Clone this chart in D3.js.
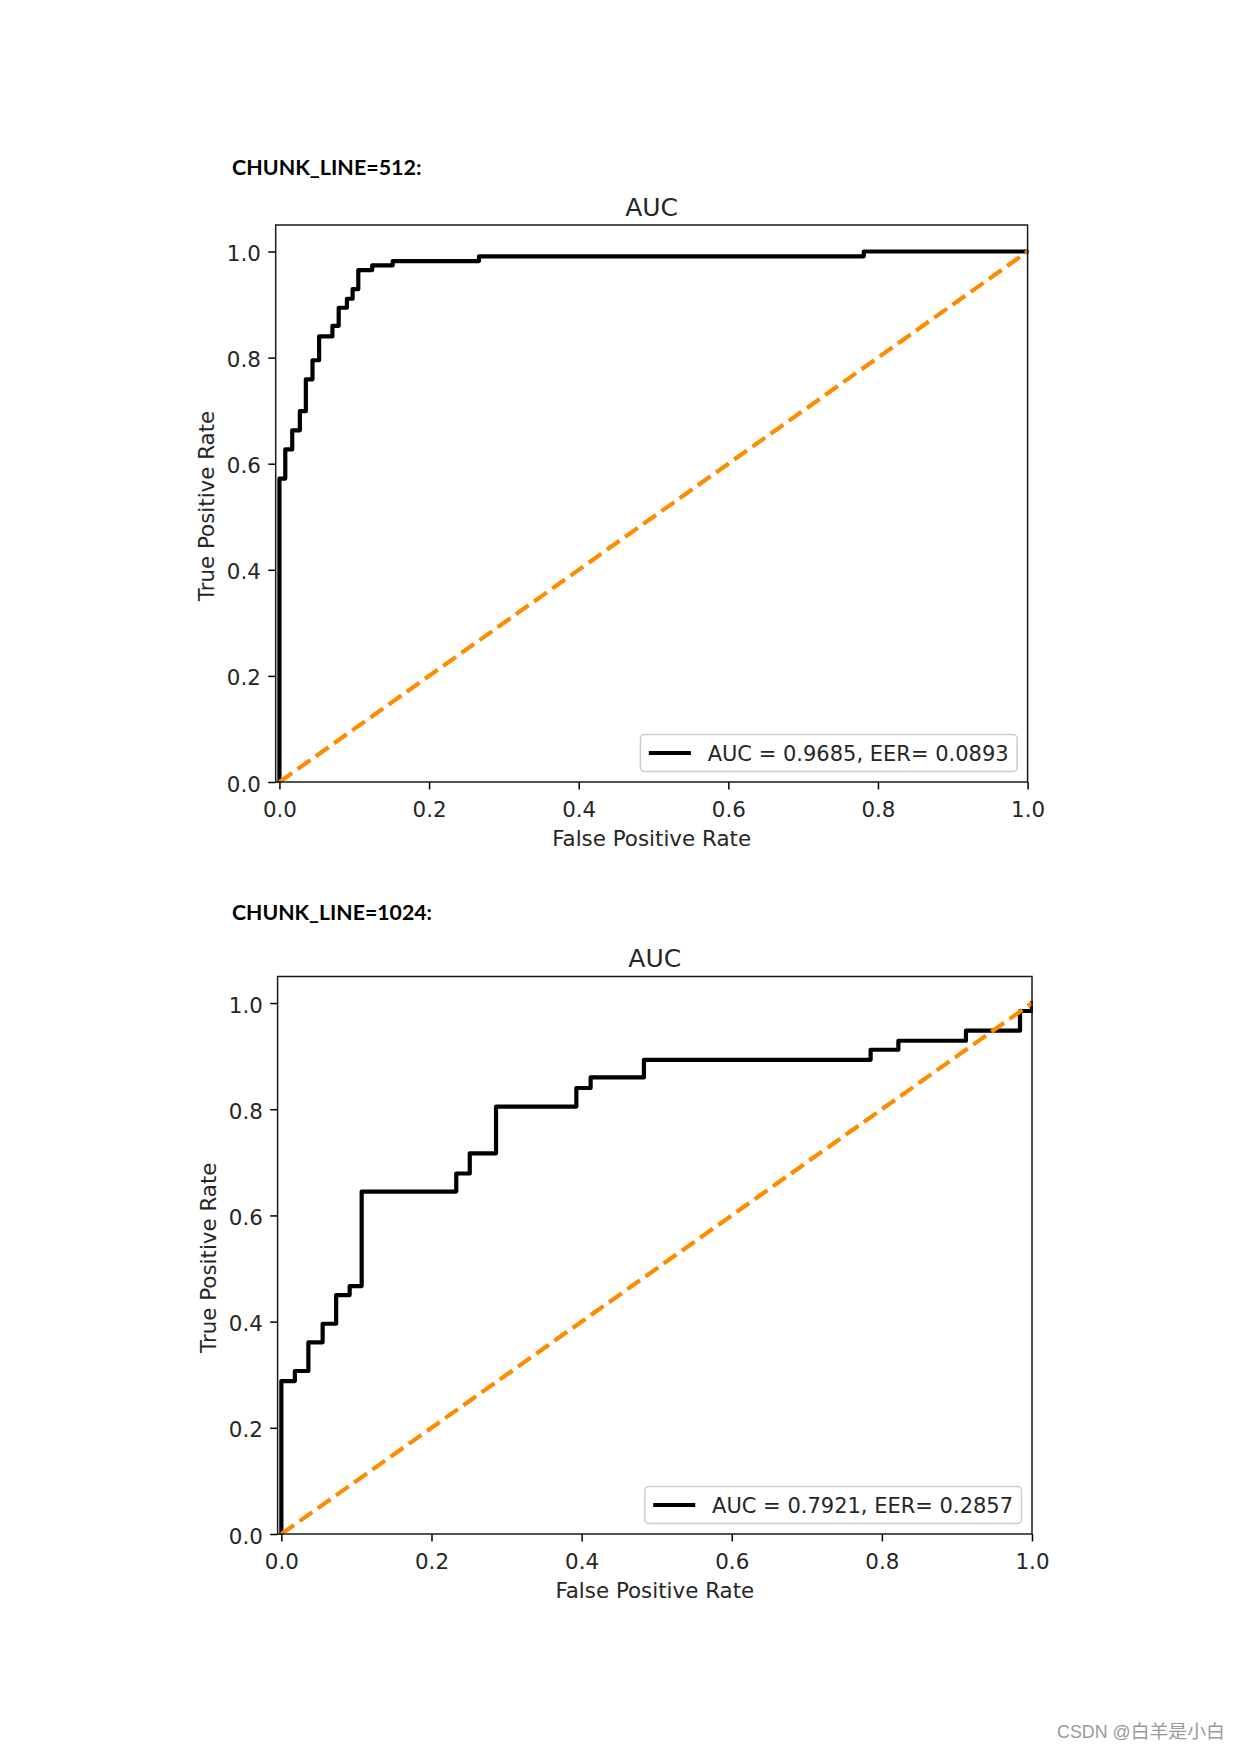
<!DOCTYPE html>
<html>
<head>
<meta charset="utf-8">
<script src="https://cdn.jsdelivr.net/npm/d3@7"></script>
<style>
  html, body { margin: 0; padding: 0; background: #ffffff; }
  svg { display: block; }
</style>
</head>
<body>
<script>
// ---------- data ----------
const tickValues = [0, 0.2, 0.4, 0.6, 0.8, 1.0];
const tickLabels = ["0.0", "0.2", "0.4", "0.6", "0.8", "1.0"];

const headers = ["CHUNK_LINE=512:", "CHUNK_LINE=1024:"];
const titles = ["AUC", "AUC"];
const xLabel = "False Positive Rate";
const yLabel = "True Positive Rate";
const legendLabels = ["AUC = 0.9685, EER= 0.0893", "AUC = 0.7921, EER= 0.2857"];

const fpr512 = [0, 0, 0.0078, 0.0078, 0.0171, 0.0171, 0.0273, 0.0273, 0.0353, 0.0353,
  0.0442, 0.0442, 0.053, 0.053, 0.0708, 0.0708, 0.0792, 0.0792, 0.0902, 0.0902,
  0.0978, 0.0978, 0.1054, 0.1054, 0.124, 0.124, 0.1514, 0.1514, 0.2667, 0.2667,
  0.781, 0.781, 1.0];
const tpr512 = [0, 0.572, 0.572, 0.627, 0.627, 0.663, 0.663, 0.699, 0.699, 0.759,
  0.759, 0.795, 0.795, 0.840, 0.840, 0.860, 0.860, 0.894, 0.894, 0.911,
  0.911, 0.929, 0.929, 0.965, 0.965, 0.974, 0.974, 0.982, 0.982, 0.991,
  0.991, 1.0, 1.0];

const fpr1024 = [0, 0, 0.018, 0.018, 0.036, 0.036, 0.055, 0.055, 0.073, 0.073,
  0.091, 0.091, 0.107, 0.107, 0.233, 0.233, 0.251, 0.251, 0.286, 0.286,
  0.393, 0.393, 0.412, 0.412, 0.483, 0.483, 0.785, 0.785, 0.822, 0.822,
  0.912, 0.912, 0.984, 0.984, 1.0, 1.0];
const tpr1024 = [0, 0.288, 0.288, 0.307, 0.307, 0.361, 0.361, 0.396, 0.396, 0.450,
  0.450, 0.467, 0.467, 0.645, 0.645, 0.679, 0.679, 0.717, 0.717, 0.805,
  0.805, 0.840, 0.840, 0.860, 0.860, 0.893, 0.893, 0.912, 0.912, 0.929,
  0.929, 0.948, 0.948, 0.985, 0.985, 1.0];

const chanceFpr = [0, 1];
const chanceTpr = [0, 1];

const watermarkLatin = "CSDN @";
const watermarkCJK = "白羊是小白";

// ---------- layout ----------
const W = 1240, H = 1754;
const svg = d3.select("body").append("svg").attr("width", W).attr("height", H)
  .style("background", "#fff");

const FONT = "'DejaVu Sans', sans-serif";
const FS = 21.4;

const panels = [
  { header: headers[0], hx: 232, hy: 174.5, hw: 189.5,
    left: 275.7, right: 1027.6, top: 225, bottom: 782,
    fpr: fpr512, tpr: tpr512, legend: legendLabels[0], title: titles[0], clip: "c0" },
  { header: headers[1], hx: 232, hy: 919.5, hw: 200,
    left: 277.6, right: 1032, top: 976.5, bottom: 1534,
    fpr: fpr1024, tpr: tpr1024, legend: legendLabels[1], title: titles[1], clip: "c1" }
];

const defs = svg.append("defs");

panels.forEach(p => {
  const g = svg.append("g");

  // header (document text)
  g.append("text")
    .attr("x", p.hx).attr("y", p.hy)
    .attr("font-family", "Lato, 'Open Sans', sans-serif")
    .attr("font-weight", 700)
    .attr("font-size", 20.5)
    .attr("textLength", p.hw)
    .attr("lengthAdjust", "spacingAndGlyphs")
    .attr("fill", "#000")
    .text(p.header);

  const x = d3.scaleLinear().domain([-0.005, 1.0]).range([p.left, p.right]);
  const y = d3.scaleLinear().domain([0, 1.05]).range([p.bottom, p.top]);

  defs.append("clipPath").attr("id", p.clip).append("rect")
    .attr("x", p.left - 1).attr("y", p.top - 1)
    .attr("width", p.right - p.left + 2).attr("height", p.bottom - p.top + 2);

  // ROC curve
  const pts = p.fpr.map((f, i) => [f, p.tpr[i]]);
  const line = d3.line().x(d => x(d[0])).y(d => y(d[1]));
  g.append("path")
    .attr("clip-path", `url(#${p.clip})`)
    .attr("d", line(pts))
    .attr("fill", "none")
    .attr("stroke", "#000")
    .attr("stroke-width", 4.2)
    .attr("stroke-linejoin", "round")
    .attr("stroke-linecap", "square");

  // chance line
  const cpts = chanceFpr.map((f, i) => [f, chanceTpr[i]]);
  g.append("path")
    .attr("clip-path", `url(#${p.clip})`)
    .attr("d", line(cpts))
    .attr("fill", "none")
    .attr("stroke", "#ff8c00")
    .attr("stroke-width", 4.2)
    .attr("stroke-dasharray", "15.6,6.7");

  // axes
  const xAxis = d3.axisBottom(x).tickValues(tickValues)
    .tickFormat((d, i) => tickLabels[i]).tickSize(7.4).tickPadding(12);
  const yAxis = d3.axisLeft(y).tickValues(tickValues)
    .tickFormat((d, i) => tickLabels[i]).tickSize(7.4).tickPadding(7.4);

  const gx = g.append("g").attr("transform", `translate(0,${p.bottom})`).call(xAxis);
  const gy = g.append("g").attr("transform", `translate(${p.left},0)`).call(yAxis);
  [gx, gy].forEach(a => {
    a.select(".domain").remove();
    a.selectAll(".tick line").attr("stroke", "#000").attr("stroke-width", 1.5);
    a.selectAll(".tick text").attr("font-family", FONT).attr("font-size", FS).attr("fill", "#262626");
  });
  gy.selectAll(".tick text").attr("dy", "0.42em");

  // spines
  g.append("rect")
    .attr("x", p.left).attr("y", p.top)
    .attr("width", p.right - p.left).attr("height", p.bottom - p.top)
    .attr("fill", "none").attr("stroke", "#1a1a1a").attr("stroke-width", 1.5);

  // title
  g.append("text")
    .attr("x", (p.left + p.right) / 2).attr("y", p.top - 9.5)
    .attr("text-anchor", "middle")
    .attr("font-family", FONT).attr("font-size", 25).attr("fill", "#262626")
    .text(p.title);

  // x label
  g.append("text")
    .attr("x", (p.left + p.right) / 2).attr("y", p.bottom + 64)
    .attr("text-anchor", "middle")
    .attr("font-family", FONT).attr("font-size", FS).attr("fill", "#262626")
    .text(xLabel);

  // y label
  const yc = (p.top + p.bottom) / 2 + 2.5;
  g.append("text")
    .attr("transform", `translate(${p.left - 62},${yc}) rotate(-90)`)
    .attr("text-anchor", "middle")
    .attr("font-family", FONT).attr("font-size", FS).attr("fill", "#262626")
    .text(yLabel);

  // legend
  const lg = g.append("g");
  const txt = lg.append("text")
    .attr("font-family", FONT).attr("font-size", 21).attr("fill", "#262626")
    .text(p.legend);
  const tw = txt.node().getComputedTextLength();
  const bw = 8.4 + 42 + 16.8 + tw + 8.4;
  const bh = 37;
  const bx = p.right - 10.5 - bw;
  const by = p.bottom - 10.5 - bh;
  lg.insert("rect", "text")
    .attr("x", bx).attr("y", by).attr("width", bw).attr("height", bh)
    .attr("rx", 4).attr("ry", 4)
    .attr("fill", "#fff").attr("fill-opacity", 0.8)
    .attr("stroke", "#cccccc").attr("stroke-width", 1.5);
  lg.insert("line", "text")
    .attr("x1", bx + 8.4).attr("x2", bx + 8.4 + 42)
    .attr("y1", by + bh / 2).attr("y2", by + bh / 2)
    .attr("stroke", "#000").attr("stroke-width", 4.2);
  txt.attr("x", bx + 67.2).attr("y", by + bh / 2 + 7.5);
});

// watermark
const wm = svg.append("text")
  .attr("x", 1057).attr("y", 1738)
  .attr("font-family", "'Liberation Sans', 'Noto Sans CJK SC', sans-serif")
  .attr("fill", "#9a9a9a")
  .attr("textLength", 168)
  .attr("lengthAdjust", "spacingAndGlyphs");
wm.append("tspan").attr("font-size", 17.5).text(watermarkLatin);
wm.append("tspan").attr("font-size", 18.5)
  .attr("font-family", "'Noto Sans CJK SC', sans-serif").text(watermarkCJK);
</script>
</body>
</html>
